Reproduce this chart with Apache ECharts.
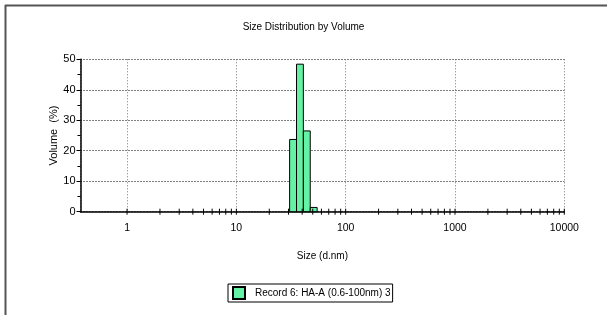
<!DOCTYPE html>
<html>
<head>
<meta charset="utf-8">
<script src="https://cdn.jsdelivr.net/npm/echarts@6/dist/echarts.min.js"></script>
<style>html,body{margin:0;padding:0;background:#fff;}#c{width:607px;height:315px;}</style>
</head>
<body>
<div id="c"></div>
<script>
// Histogram bins (d.nm) and volume (%)
var binLeft  = [30.7, 35.5, 41.0, 47.4];
var binRight = [35.5, 41.0, 47.4, 54.8];
var volume   = [23.7, 48.4, 26.5, 1.4];
var xTickLabels = [1, 10, 100, 1000, 10000];
var seriesName = 'Record 6: HA-A (0.6-100nm) 3';

var FONT = 'Liberation Sans';
var barData = binLeft.map(function (l, i) { return [l, binRight[i], volume[i]]; });

// minor tick positions (2..9 in each decade) plus decades
var tickVals = [];
xTickLabels.forEach(function (d, k) {
  tickVals.push([d]);
  if (k < xTickLabels.length - 1) {
    for (var m = 2; m <= 9; m++) tickVals.push([d * m]);
  }
});

var chart = echarts.init(document.getElementById('c'), null, {renderer: 'canvas'});
chart.setOption({
  backgroundColor: '#fff',
  animation: false,
  title: {
    text: 'Size Distribution by Volume',
    left: 'center', top: 17,
    textStyle: {fontFamily: FONT, fontSize: 10, fontWeight: 'normal', color: '#000'}
  },
  legend: {
    data: [seriesName],
    left: 228, top: 284,
    orient: 'horizontal',
    icon: 'rect', itemWidth: 12, itemHeight: 12, itemGap: 6,
    borderColor: '#000', borderWidth: 1,
    padding: [2, 2, 2, 4],
    textStyle: {fontFamily: FONT, fontSize: 10, color: '#000', padding: [0,0,0,5]}
  },
  graphic: [
    {type: 'line', shape: {x1: 5.5, y1: 5, x2: 5.5, y2: 315}, style: {stroke: '#555', lineWidth: 2}},
    {type: 'line', shape: {x1: 5, y1: 5.5, x2: 607, y2: 5.5}, style: {stroke: '#555', lineWidth: 2}}
  ],
  grid: {left: 80.5, right: 42.7, top: 59.3, bottom: 103.3},
  xAxis: {
    type: 'log', logBase: 10, min: 0.375, max: 10000,
    name: 'Size (d.nm)', nameLocation: 'middle', nameGap: 40, nameMoveOverlap: false,
    nameTextStyle: {fontFamily: FONT, fontSize: 10, color: '#000'},
    axisLine: {lineStyle: {color: '#000', width: 1.5}},
    axisTick: {show: false},
    axisLabel: {
      fontFamily: FONT, fontSize: 10.5, color: '#000', margin: 11,
      formatter: function (v) { return v < 0.99 ? '' : String(Math.round(v)); }
    },
    splitLine: {show: true, lineStyle: {color: '#777', type: [1, 2], width: 1}}
  },
  yAxis: {
    type: 'value', min: 0, max: 50, interval: 10,
    name: 'Volume  (%)', nameLocation: 'middle', nameGap: 21.5, nameRotate: 90, nameMoveOverlap: false,
    nameTextStyle: {fontFamily: FONT, fontSize: 11, color: '#000'},
    axisLine: {show: true, lineStyle: {color: '#000', width: 1.5}},
    axisTick: {show: true, length: 4, lineStyle: {color: '#000'}},
    minorTick: {show: true, splitNumber: 2, length: 3, lineStyle: {color: '#000'}},
    axisLabel: {fontFamily: FONT, fontSize: 11, color: '#000', margin: 5},
    splitLine: {show: true, lineStyle: {color: '#000', type: [1, 2], width: 1}}
  },
  series: [
    {
      name: seriesName,
      type: 'custom',
      itemStyle: {color: '#66f2a4', borderColor: '#000', borderWidth: 1},
      encode: {x: [0, 1], y: 2},
      data: barData,
      renderItem: function (params, api) {
        var p0 = api.coord([api.value(0), api.value(2)]);
        var p1 = api.coord([api.value(1), 0]);
        return {
          type: 'rect',
          shape: {x: p0[0], y: p0[1], width: p1[0] - p0[0], height: p1[1] - p0[1]},
          style: {fill: '#66f2a4', stroke: '#000', lineWidth: 1}
        };
      },
      z: 3
    },
    {
      name: 'ticks',
      type: 'custom',
      silent: true,
      encode: {x: 0},
      data: tickVals,
      renderItem: function (params, api) {
        var p = api.coord([api.value(0), 0]);
        return {
          type: 'line',
          shape: {x1: p[0], y1: p[1] - 3, x2: p[0], y2: p[1] + 3},
          style: {stroke: '#000', lineWidth: 1}
        };
      },
      z: 4
    }
  ]
});
</script>
</body>
</html>
